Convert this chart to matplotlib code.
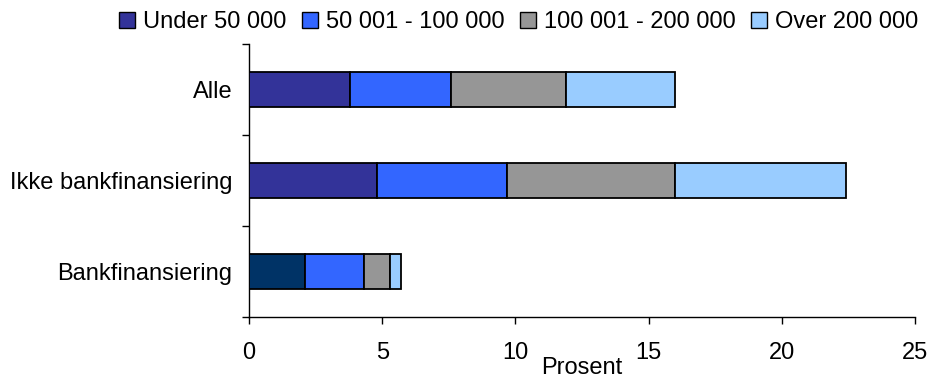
import matplotlib
matplotlib.use("Agg")
import matplotlib.pyplot as plt
from matplotlib.patches import Patch

plt.rcParams['font.family'] = ['Liberation Sans', 'DejaVu Sans']

categories = ["Bankfinansiering", "Ikke bankfinansiering", "Alle"]
series_names = ["Under 50 000", "50 001 - 100 000", "100 001 - 200 000", "Over 200 000"]
under_50 = [2.1, 4.8, 3.8]
from_50_to_100 = [2.2, 4.9, 3.8]
from_100_to_200 = [1.0, 6.3, 4.3]
over_200 = [0.4, 6.4, 4.1]
x_ticks = [0, 5, 10, 15, 20, 25]

series_values = [under_50, from_50_to_100, from_100_to_200, over_200]
series_colors = ["#333399", "#3366FF", "#969696", "#99CCFF"]
# the first segment of the bank-financed bar has its own darker fill
first_segment_colors = ["#003366", "#333399", "#333399"]

FS = 17

fig = plt.figure(figsize=(9.28, 3.86), dpi=100)
ax = fig.add_axes([249 / 928, 69 / 386, 666 / 928, 273 / 386])

ypos = list(range(len(categories)))
left = [0.0] * len(categories)
for i, (vals, col) in enumerate(zip(series_values, series_colors)):
    colors = first_segment_colors if i == 0 else [col] * len(categories)
    ax.barh(ypos, vals, left=left, height=0.39, color=colors,
            edgecolor="black", linewidth=1.3, zorder=3)
    left = [l + v for l, v in zip(left, vals)]

ax.set_xlim(0, 25)
ax.set_ylim(-0.5, 2.5)
ax.set_xticks(x_ticks)
ax.set_xticklabels([str(t) for t in x_ticks])
ax.set_yticks(ypos)
ax.set_yticklabels(categories)
ax.set_yticks([-0.5, 0.5, 1.5, 2.5], minor=True)
ax.tick_params(axis="y", which="major", length=0, pad=12, labelsize=FS)
ax.tick_params(axis="y", which="minor", length=5, width=1, direction="out")
ax.tick_params(axis="x", length=5, width=1, direction="out", pad=13, labelsize=FS)
ax.set_xlabel("Prosent", fontsize=FS, labelpad=-5)

for s in ["top", "right"]:
    ax.spines[s].set_visible(False)
for s in ["left", "bottom"]:
    ax.spines[s].set_linewidth(1)

handles = [Patch(facecolor=c, edgecolor="black", linewidth=1) for c in series_colors]
fig.legend(handles, series_names, loc="center", bbox_to_anchor=(519 / 928, 1 - 22 / 386),
           ncol=4, frameon=False, fontsize=FS, handlelength=0.68, handleheight=0.68,
           handletextpad=0.34, columnspacing=0.65, borderaxespad=0, borderpad=0)

fig.savefig("out.png", dpi=100)
